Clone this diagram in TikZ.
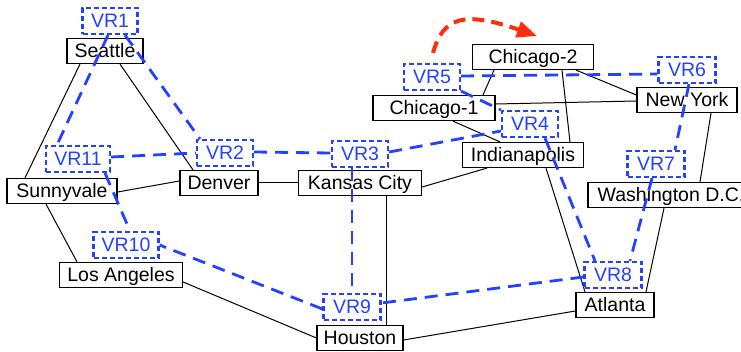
\documentclass[tikz,border=0pt]{standalone}
\usepackage{fontspec}
\setmainfont{Liberation Sans}
\usetikzlibrary{arrows.meta}
\definecolor{vrblue}{RGB}{35,65,255}
\definecolor{movered}{RGB}{255,45,10}

\begin{document}
\begin{tikzpicture}[x=1pt, y=-1pt, font=\fontsize{19.5}{22}\selectfont,
    % Styles
    city/.style={draw, line width=1.2pt, fill=white, inner xsep=6pt, inner ysep=0pt, minimum height=25pt, text height=17.5pt, text depth=4pt},
    vr/.style={draw=vrblue, text=vrblue, line width=2.2pt, dash pattern=on 5pt off 3pt, fill=white, inner xsep=6pt, inner ysep=0pt, minimum height=26pt, text height=17.5pt, text depth=4pt},
    link/.style={line width=1pt},
    vlink/.style={vrblue, line width=2.8pt, dash pattern=on 13pt off 8pt},
    move/.style={-{Triangle[length=20pt,width=16pt]}, movered, line width=4pt, dash pattern=on 12pt off 7pt},
]
\clip (0,0) rectangle (741,352);

% Physical network
\node[city, minimum width=76pt] (seattle) at (105,51) {Seattle};
\node[city, minimum width=110pt] (sunnyvale) at (62,191) {Sunnyvale};
\node[city, minimum width=123pt] (losangeles) at (121,275) {Los Angeles};
\node[city, minimum width=78pt] (denver) at (219,183) {Denver};
\node[city, minimum width=123pt] (kansas) at (360,183) {Kansas City};
\node[city, minimum width=86pt] (houston) at (360,338) {Houston};
\node[city, minimum width=122pt] (chicagoone) at (434,108) {Chicago-1};
\node[city, minimum width=121pt] (chicagotwo) at (533,57) {Chicago-2};
\node[city, minimum width=121pt] (indy) at (523,155) {Indianapolis};
\node[city, minimum width=100pt] (newyork) at (687,100) {New York};
\node[city, minimum width=166pt] (washington) at (671,195) {Washington D.C.};
\node[city, minimum width=78pt] (atlanta) at (615,305) {Atlanta};

\draw[link] ([xshift=-25pt]seattle.south) -- ([xshift=-37pt]sunnyvale.north);
\draw[link] ([xshift=15pt]seattle.south) -- ([xshift=-26pt]denver.north);
\draw[link] ([yshift=-1pt]sunnyvale.east) -- ([yshift=2pt]denver.west);
\draw[link] ([xshift=-16pt]sunnyvale.south) -- ([xshift=-44pt]losangeles.north);
\draw[link] (denver) -- (kansas);
\draw[link] ([yshift=-4pt]kansas.east) -- ([xshift=-36pt]indy.south);
\draw[link] ([xshift=26pt]kansas.south) -- ([xshift=26pt]houston.north);
\draw[link] ([yshift=-7pt]losangeles.east) -- (houston.west);
\draw[link] ([yshift=-2pt]houston.east) -- ([yshift=-6pt]atlanta.west);
\draw[link] ([xshift=49pt]chicagoone.north) -- ([xshift=-39pt]chicagotwo.south);
\draw[link] ([yshift=4pt]chicagoone.east) -- ([yshift=-1pt]newyork.west);
\draw[link] ([xshift=19pt]chicagoone.south) -- ([xshift=-23pt]indy.north);
\draw[link] ([xshift=29pt]chicagotwo.south) -- ([xshift=47pt]indy.north);
\draw[link] ([xshift=43pt]chicagotwo.south) -- ([yshift=5pt]newyork.west);
\draw[link] ([xshift=24pt]newyork.south) -- ([xshift=29pt]washington.north);
\draw[link] ([xshift=23pt]indy.south) -- ([xshift=-30pt]atlanta.north);
\draw[link] ([xshift=-7pt]washington.south) -- ([xshift=31pt]atlanta.north);

% Virtual routers
\node[vr, minimum width=55pt] (vr1) at (110,21) {VR1};
\node[vr, minimum width=56pt] (vr2) at (225,153) {VR2};
\node[vr, minimum width=56pt] (vr3) at (360,154) {VR3};
\node[vr, minimum width=56pt] (vr4) at (530,124) {VR4};
\node[vr, minimum width=56pt] (vr5) at (432,77) {VR5};
\node[vr, minimum width=57pt] (vr6) at (687,70) {VR6};
\node[vr, minimum width=57pt] (vr7) at (656,164) {VR7};
\node[vr, minimum width=57pt] (vr8) at (613,275) {VR8};
\node[vr, minimum width=57pt] (vr9) at (352,307) {VR9};
\node[vr, minimum width=65pt] (vr10) at (126,245) {VR10};
\node[vr, minimum width=64pt] (vr11) at (78,159) {VR11};

\draw[vlink] ([xshift=-2pt]vr1.south) -- ([xshift=-21pt]vr11.north);
\draw[vlink] ([xshift=15pt]vr1.south) -- ([xshift=-25pt]vr2.north);
\draw[vlink] ([yshift=2pt]vr11.east) -- (vr2.west);
\draw[vlink] ([xshift=27pt]vr11.south) -- ([xshift=4pt]vr10.north);
\draw[vlink] ([yshift=1pt]vr2.east) -- ([yshift=1pt]vr3.west);
\draw[vlink] ([yshift=2pt]vr3.east) -- ([yshift=-7pt]vr4.west);
\draw[vlink] ([xshift=-8pt]vr3.south) -- (vr9.north);
\draw[vlink] (vr5.south east) -- (vr4.north west);
\draw[vlink] ([yshift=1pt]vr5.east) -- ([yshift=-4pt]vr6.west);
\draw[vlink] ([xshift=2pt]vr6.south) -- ([xshift=19pt]vr7.north);
\draw[vlink] ([xshift=15pt]vr4.south) -- ([xshift=-18pt]vr8.north);
\draw[vlink] ([xshift=-4pt]vr7.south) -- ([xshift=17pt]vr8.north);
\draw[vlink] ([yshift=-2pt]vr8.west) -- ([yshift=4pt]vr9.east);
\draw[vlink] ([yshift=-2pt]vr9.west) -- (vr10.east);

% Migration
\coordinate (movetip) at (537,36);
\draw[move] ([xshift=1pt,yshift=10pt]vr5.north) .. controls (443,18) and (462,10) .. (movetip);

\end{tikzpicture}
\end{document}
